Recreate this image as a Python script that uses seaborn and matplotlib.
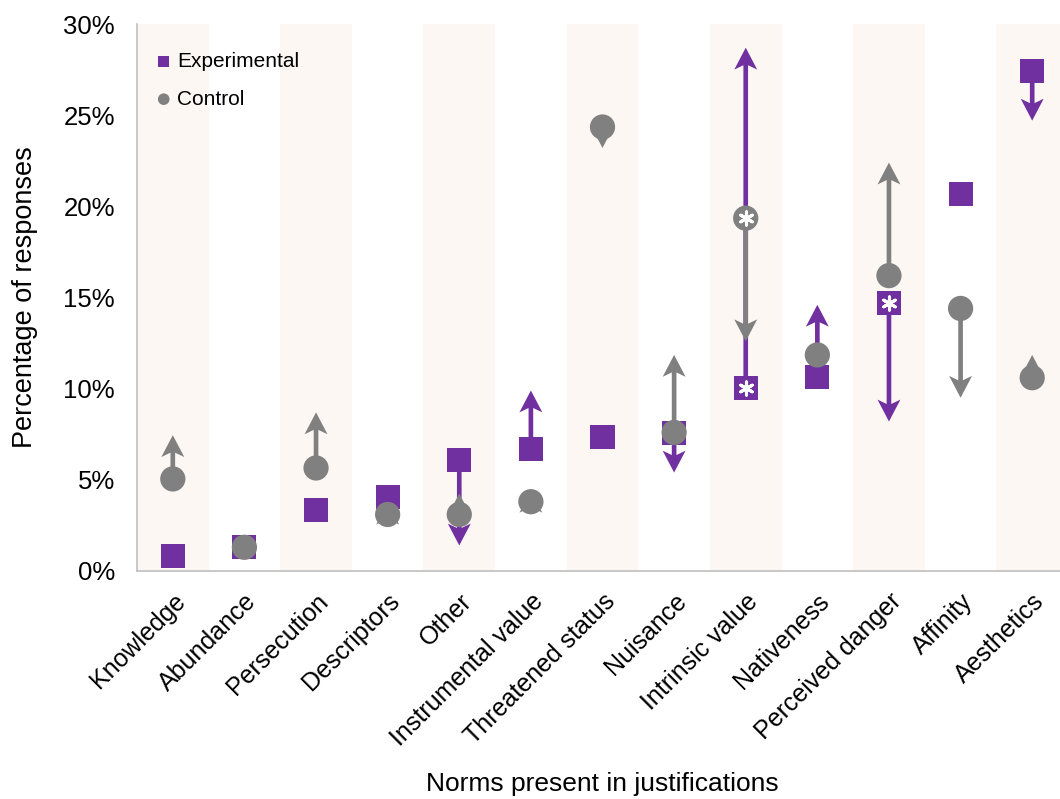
import numpy as np
import pandas as pd
import matplotlib
matplotlib.use('Agg')
import matplotlib.pyplot as plt
import seaborn as sns

## =============================== ##
## data (percent of responses)

norms = ['Knowledge', 'Abundance', 'Persecution', 'Descriptors', 'Other',
         'Instrumental value', 'Threatened status', 'Nuisance', 'Intrinsic value',
         'Nativeness', 'Perceived danger', 'Affinity', 'Aesthetics']

exp_value = [0.8, 1.3, 3.35, 4.05, 6.1, 6.7, 7.35, 7.55, 10.05, 10.65, 14.7, 20.7, 27.4]
exp_arrow = [np.nan, np.nan, np.nan, np.nan, 1.4, 9.9, np.nan, 5.4, 28.7, 14.6, 8.2, np.nan, 24.7]
exp_signif = [0, 0, 0, 0, 0, 0, 0, 0, 1, 0, 1, 0, 0]

ctl_value = [5.05, 1.3, 5.65, 3.1, 3.1, 3.8, 24.35, 7.6, 19.35, 11.85, 16.2, 14.4, 10.6]
ctl_arrow = [7.45, np.nan, 8.7, 3.75, 4.25, 4.4, 23.2, 11.85, 12.6, np.nan, 22.4, 9.5, 11.85]
ctl_signif = [0, 0, 0, 0, 0, 0, 0, 0, 1, 0, 0, 0, 0]

PURPLE = '#7030A0'
GREY = '#808080'
BAND = '#FCF7F3'

df_exp = pd.DataFrame({'norm': norms, 'value': exp_value, 'arrow': exp_arrow, 'signif': exp_signif})
df_ctl = pd.DataFrame({'norm': norms, 'value': ctl_value, 'arrow': ctl_arrow, 'signif': ctl_signif})
df_exp['pos'] = np.arange(len(norms))
df_ctl['pos'] = np.arange(len(norms))

## =============================== ##

sns.set_style('white')
plt.rcParams['font.family'] = ['Liberation Sans', 'DejaVu Sans']
plt.rcParams['text.color'] = 'black'
plt.rcParams['axes.labelcolor'] = 'black'
plt.rcParams['xtick.color'] = 'black'
plt.rcParams['ytick.color'] = 'black'

fig = plt.figure(figsize=(10.6, 7.99), dpi=100)
ax = fig.add_axes([137/1060, 228/799, 931/1060, 547/799])
ax.set_xlim(-0.5, len(norms) - 0.5)
ax.set_ylim(0, 30)

for i in range(0, len(norms), 2):
    ax.axvspan(i - 0.5, i + 0.5, color=BAND, lw=0, zorder=0)

# arrow sizes in data units (x: category width, y: percent)
HEAD_W = 0.32
HEAD_L = 1.2
SHAFT_W = 0.065

def draw_arrows(d, color, z):
    for _, r in d.loc[d['arrow'].notnull(), :].iterrows():
        ax.arrow(r['pos'], r['value'], 0, r['arrow'] - r['value'],
                 width=SHAFT_W, head_width=HEAD_W, head_length=HEAD_L,
                 length_includes_head=True, overhang=0.2,
                 color=color, lw=0, zorder=z)

draw_arrows(df_exp, PURPLE, 2)
draw_arrows(df_ctl, GREY, 3)

sns.scatterplot(ax=ax, data=df_exp, x='pos', y='value', marker='s', s=300,
                color=PURPLE, edgecolor='none', linewidth=0, label='Experimental', zorder=4)
sns.scatterplot(ax=ax, data=df_ctl, x='pos', y='value', marker='o', s=330,
                color=GREY, edgecolor='none', linewidth=0, label='Control', zorder=5)

# significance asterisks
sig = pd.concat([df_exp.loc[df_exp['signif'] == 1, :], df_ctl.loc[df_ctl['signif'] == 1, :]])
sns.scatterplot(ax=ax, data=sig, x='pos', y='value', marker=(6, 2, 0), s=90,
                color='white', linewidth=2.2, zorder=6, legend=False)

ax.set_yticks(np.arange(0, 31, 5))
ax.set_yticklabels(['%d%%' % v for v in np.arange(0, 31, 5)], fontsize=18.5)
ax.set_xticks(np.arange(len(norms)))
ax.set_xticklabels(norms, rotation=45, ha='right', va='top', rotation_mode='anchor', fontsize=18)
ax.tick_params(axis='y', length=0, pad=16)
ax.tick_params(axis='x', length=0, pad=13)

ax.set_ylabel('Percentage of responses', fontsize=19.5)
ax.set_xlabel('Norms present in justifications', fontsize=19)
ax.yaxis.set_label_coords(-0.106, 0.5)
ax.xaxis.set_label_coords(0.5, -0.367)

for s in ['top', 'right']:
    ax.spines[s].set_visible(False)
for s in ['left', 'bottom']:
    ax.spines[s].set_color('#BFBFBF')
    ax.spines[s].set_linewidth(1.2)

ax.legend(loc='upper left', bbox_to_anchor=(0.022, 0.949), frameon=False, fontsize=15,
          markerscale=0.46, handletextpad=0.35, handlelength=0.6, labelspacing=0.9,
          borderpad=0, borderaxespad=0)

fig.savefig('out.png', dpi=100)
